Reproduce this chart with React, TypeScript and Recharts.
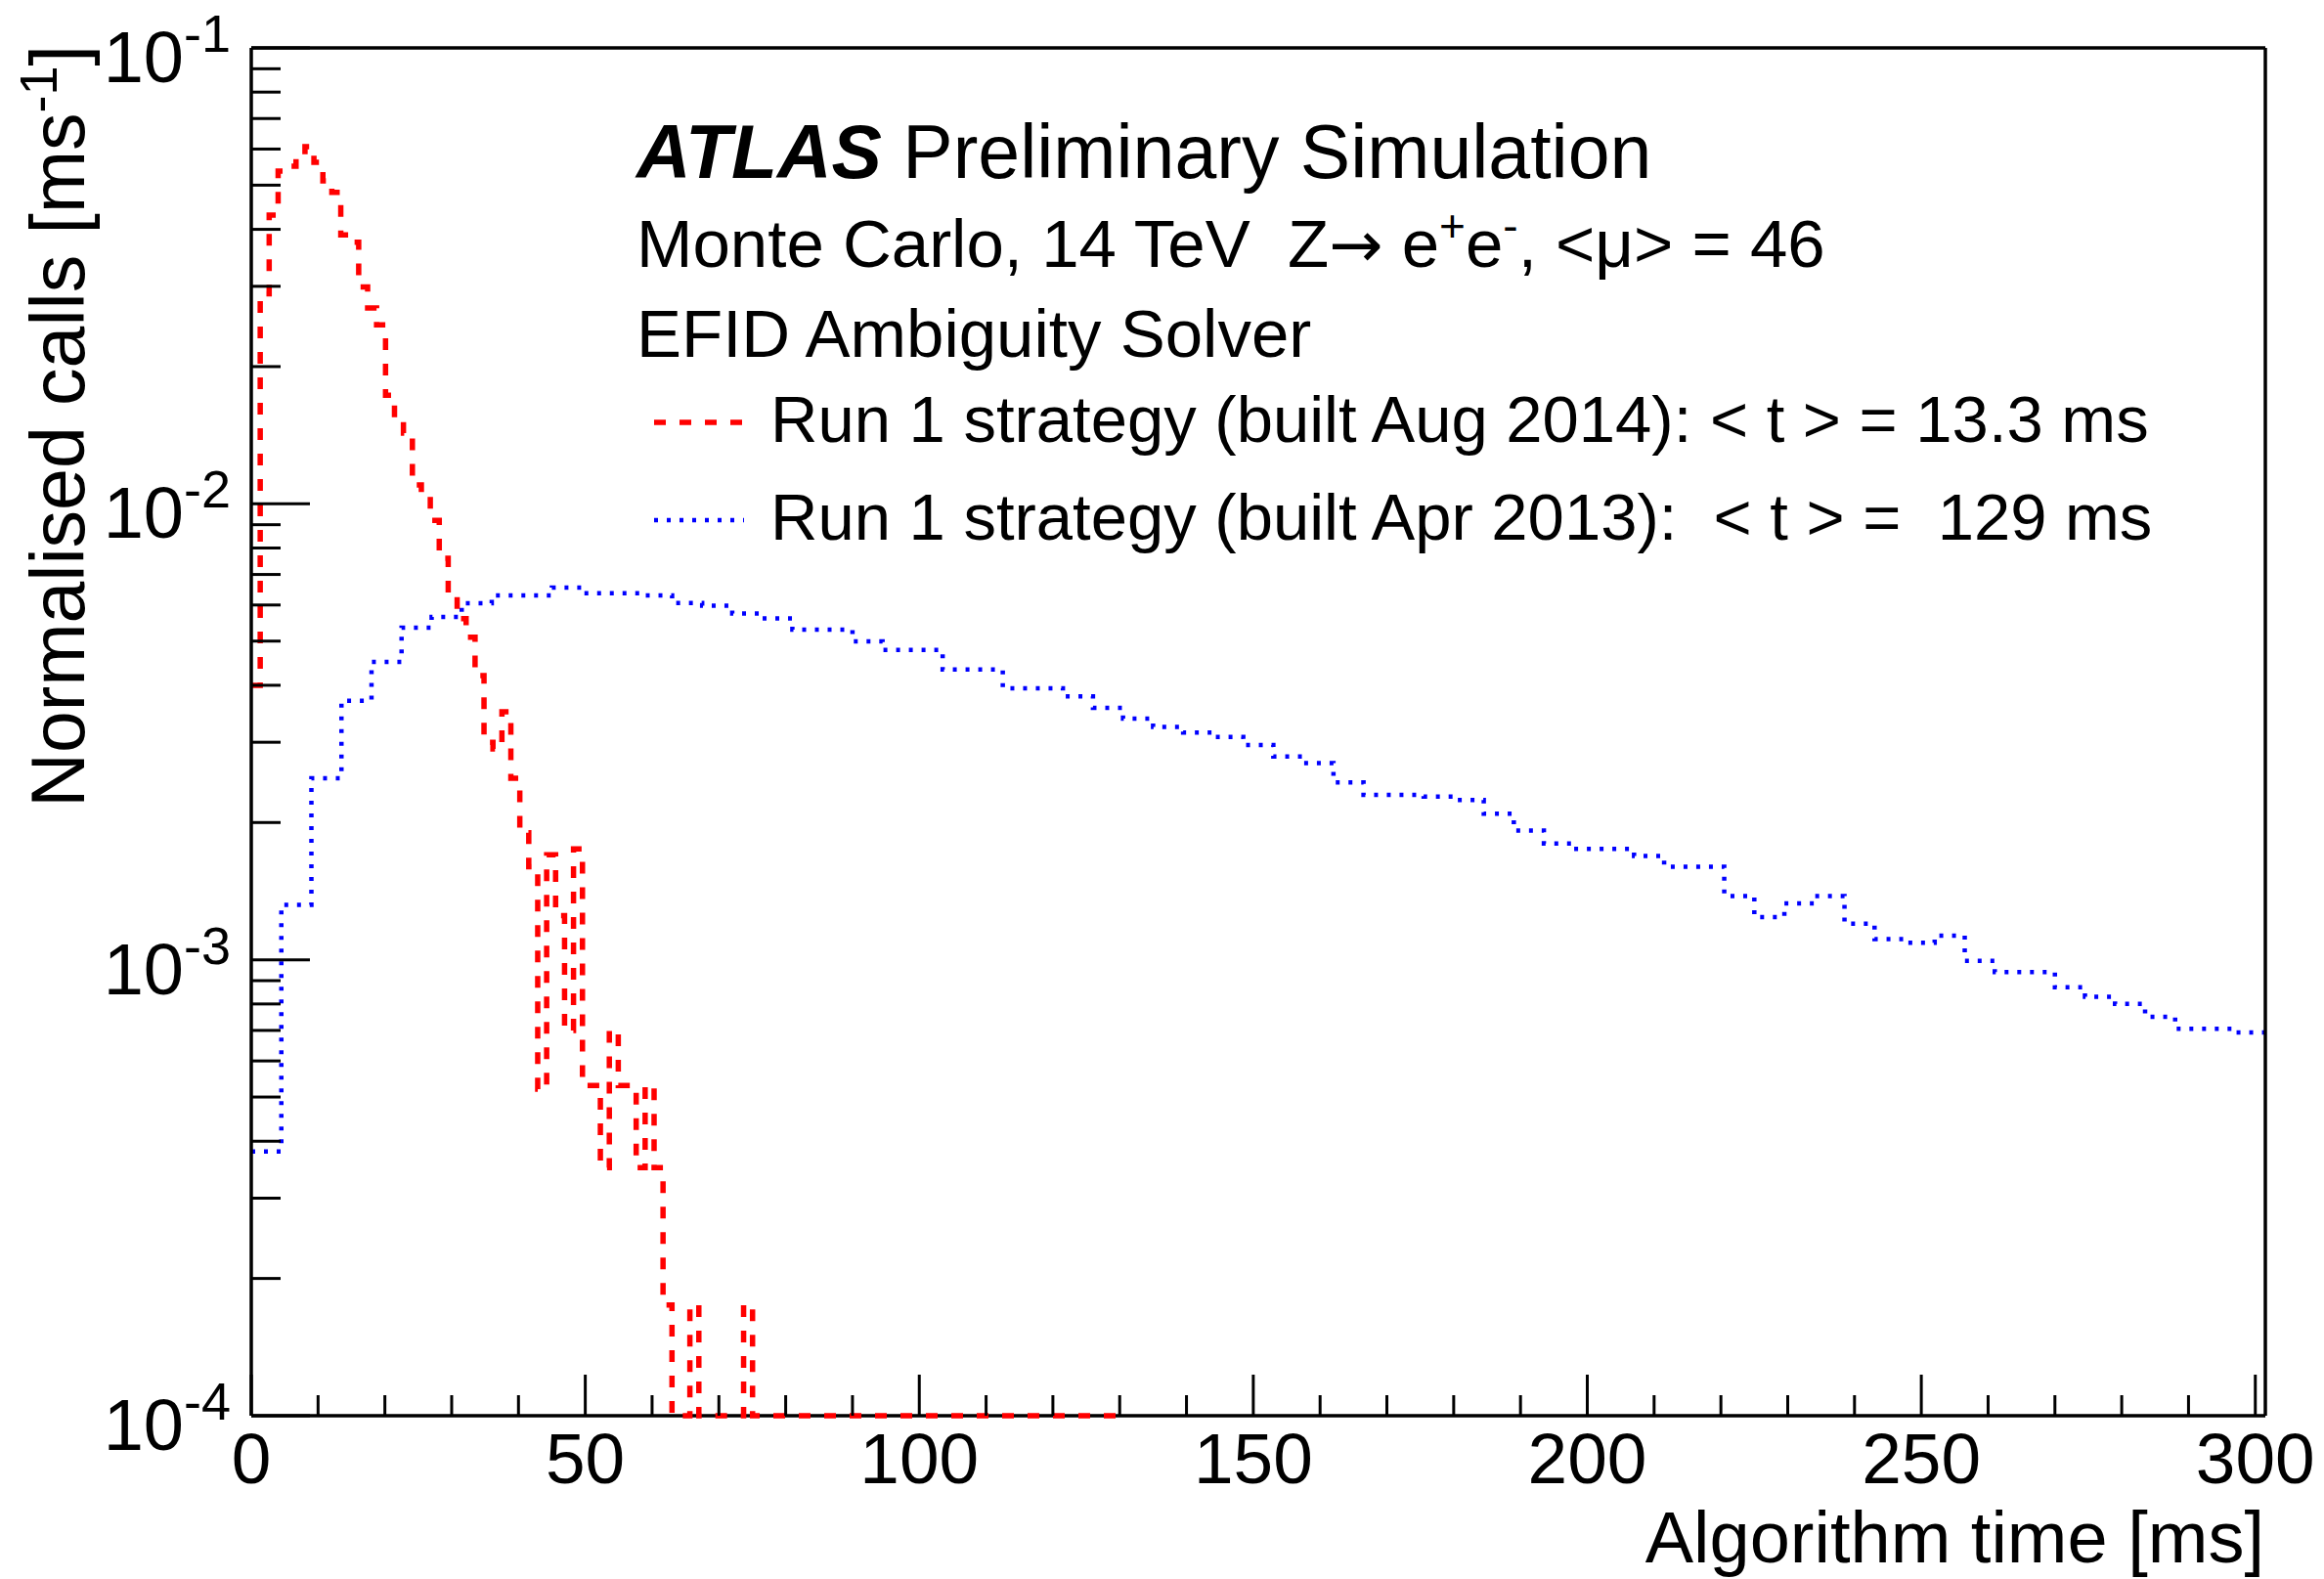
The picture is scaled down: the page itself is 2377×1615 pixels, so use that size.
import React from "react";
import { CartesianGrid, ComposedChart, Line, XAxis, YAxis } from "recharts";

const W = 2377;
const H = 1615;
const FONT = '"Liberation Sans", Arial, Helvetica, sans-serif';

// plot frame (px) – the chart margins are derived from it
const PLOT = { left: 257, right: 2317, top: 49, bottom: 1448 };

// histogram binning (ms)
const X_MAX = 301.5;
const redBinWidth = X_MAX / 225;
const blueBinWidth = 4.5;

// Run 1 strategy (built Aug 2014), normalised calls per bin, 0 = empty bin
const redValues = [
  0.004, 0.0289, 0.043, 0.0537, 0.055, 0.0577, 0.0607, 0.0561, 0.0511, 0.0482,
  0.0389, 0.0375, 0.0299, 0.0269, 0.0247, 0.0173, 0.0152, 0.0143, 0.011, 0.0104,
  0.0092, 0.0076, 0.0063, 0.0056, 0.0051, 0.0042, 0.003, 0.0029, 0.0035, 0.0025,
  0.0019, 0.0016, 0.00052, 0.0017, 0.00125, 0.0007, 0.00175, 0.00053, 0.00053, 0.00035,
  0.0007, 0.00053, 0.00053, 0.00035, 0.00053, 0.00035, 0.000175, 0, 0, 0.000175,
  0, 0, 0, 0, 0, 0.000175, 0, 0, 0, 0,
  0, 0, 0, 0, 0, 0, 0, 0, 0, 0,
  0, 0, 0, 0, 0, 0, 0, 0, 0, 0,
  0, 0, 0, 0, 0, 0, 0, 0, 0, 0,
  0, 0, 0, 0, 0, 0, 0,
];

// Run 1 strategy (built Apr 2013)
const blueValues = [
  0.00038, 0.00132, 0.0025, 0.0037, 0.0045, 0.00535, 0.00565, 0.00605, 0.0063, 0.0063,
  0.00655, 0.00637, 0.00637, 0.0063, 0.00606, 0.00598, 0.00575, 0.00561, 0.0053, 0.0053,
  0.00499, 0.00478, 0.00478, 0.00433, 0.00433, 0.00394, 0.00394, 0.00378, 0.00357, 0.00338,
  0.00324, 0.00315, 0.00308, 0.00296, 0.00279, 0.0027, 0.00245, 0.0023, 0.0023, 0.00228,
  0.00224, 0.00209, 0.00192, 0.0018, 0.00175, 0.00175, 0.00169, 0.0016, 0.0016, 0.00138,
  0.00124, 0.00133, 0.00138, 0.0012, 0.00111, 0.00109, 0.00113, 0.000995, 0.00094, 0.00094,
  0.00087, 0.00083, 0.0008, 0.00075, 0.000706, 0.000706, 0.000693,
];

const xTicks = [
  0, 10, 20, 30, 40, 50, 60, 70, 80, 90, 100, 110, 120, 130, 140, 150, 160, 170,
  180, 190, 200, 210, 220, 230, 240, 250, 260, 270, 280, 290, 300,
];
const xLabelEvery = 50;

const yTicks = [
  1e-4, 2e-4, 3e-4, 4e-4, 5e-4, 6e-4, 7e-4, 8e-4, 9e-4,
  1e-3, 2e-3, 3e-3, 4e-3, 5e-3, 6e-3, 7e-3, 8e-3, 9e-3,
  1e-2, 2e-2, 3e-2, 4e-2, 5e-2, 6e-2, 7e-2, 8e-2, 9e-2,
  1e-1,
];

const Y_MIN = 1e-4;
const Y_MAX = 0.1;

// histogram -> step points (empty bins are drawn on the frame, like ROOT does)
const toSteps = (vals: number[], w: number) => {
  const pts = vals.map((v, i) => ({ x: i * w, y: Math.max(v, Y_MIN) }));
  pts.push({ x: vals.length * w, y: Math.max(vals[vals.length - 1], Y_MIN) });
  return pts;
};

const redData = toSteps(redValues, redBinWidth);
const blueData = toSteps(blueValues, blueBinWidth);

const isDecade = (v: number) => {
  const l = Math.log10(v);
  return Math.abs(l - Math.round(l)) < 1e-6;
};

const BottomTick = (props: any) => {
  const { x, payload } = props;
  const major = payload.value % xLabelEvery === 0;
  return (
    <g>
      <line x1={x} x2={x} y1={PLOT.bottom} y2={PLOT.bottom - (major ? 42 : 21)} stroke="#000" strokeWidth={3} />
      {major && (
        <text x={x} y={PLOT.bottom + 69} textAnchor="middle" fontSize={73} fontFamily={FONT} fill="#000">
          {payload.value}
        </text>
      )}
    </g>
  );
};

const TopTick = (props: any) => {
  const { x, payload } = props;
  const major = payload.value % xLabelEvery === 0;
  return <line x1={x} x2={x} y1={PLOT.top} y2={PLOT.top + (major ? 42 : 21)} stroke="#000" strokeWidth={3} />;
};

const LeftTick = (props: any) => {
  const { y, payload } = props;
  const major = isDecade(payload.value);
  const exp = Math.round(Math.log10(payload.value));
  return (
    <g>
      <line x1={PLOT.left} x2={PLOT.left + (major ? 60 : 30)} y1={y} y2={y} stroke="#000" strokeWidth={3} />
      {major && (
        <text x={236} y={y + 35} textAnchor="end" fontSize={74} fontFamily={FONT} fill="#000">
          10
          <tspan dy={-31} fontSize={54}>{String(exp)}</tspan>
        </text>
      )}
    </g>
  );
};

const RightTick = (props: any) => {
  const { y, payload } = props;
  const major = isDecade(payload.value);
  return <line x1={PLOT.right} x2={PLOT.right - (major ? 60 : 30)} y1={y} y2={y} stroke="#000" strokeWidth={3} />;
};

const frame = { stroke: "#000", strokeWidth: 3.5 };

const App = () => {
  return (
    <div style={{ position: "absolute", left: 0, top: 0, width: W, height: H, background: "#fff" }}>
      <ComposedChart
        width={W}
        height={H}
        margin={{
          top: PLOT.top - 1,
          right: W - PLOT.right - 1,
          bottom: H - PLOT.bottom - 1,
          left: PLOT.left - 1,
        }}
      >
        {/* bottom edge of the frame sits behind the histograms, so empty red bins show on it */}
        <CartesianGrid
          xAxisId="b"
          yAxisId="l"
          vertical={false}
          horizontalPoints={[PLOT.bottom]}
          stroke="#000"
          strokeWidth={3.5}
        />
        <XAxis
          xAxisId="b"
          type="number"
          dataKey="x"
          domain={[0, X_MAX]}
          ticks={xTicks}
          interval={0}
          height={1}
          tickSize={0}
          tickMargin={0}
          tickLine={false}
          axisLine={false}
          tick={<BottomTick />}
        />
        <XAxis
          xAxisId="t"
          orientation="top"
          type="number"
          dataKey="x"
          domain={[0, X_MAX]}
          ticks={xTicks}
          interval={0}
          height={1}
          tickSize={0}
          tickMargin={0}
          tickLine={false}
          axisLine={frame}
          tick={<TopTick />}
        />
        <YAxis
          yAxisId="l"
          type="number"
          scale="log"
          domain={[Y_MIN, Y_MAX]}
          ticks={yTicks}
          interval={0}
          width={1}
          tickSize={0}
          tickMargin={0}
          tickLine={false}
          axisLine={frame}
          tick={<LeftTick />}
        />
        <YAxis
          yAxisId="r"
          orientation="right"
          type="number"
          scale="log"
          domain={[Y_MIN, Y_MAX]}
          ticks={yTicks}
          interval={0}
          width={1}
          tickSize={0}
          tickMargin={0}
          tickLine={false}
          axisLine={frame}
          tick={<RightTick />}
        />
        <Line
          xAxisId="b"
          yAxisId="l"
          data={blueData}
          dataKey="y"
          type="stepAfter"
          stroke="#0000ff"
          strokeWidth={4.5}
          strokeDasharray="4 9"
          dot={false}
          isAnimationActive={false}
        />
        <Line
          xAxisId="b"
          yAxisId="l"
          data={redData}
          dataKey="y"
          type="stepAfter"
          stroke="#ff0000"
          strokeWidth={5.5}
          strokeDasharray="12 14"
          dot={false}
          isAnimationActive={false}
        />
      </ComposedChart>

      {/* labels, annotations and legend */}
      <svg
        width={W}
        height={H}
        style={{ position: "absolute", left: 0, top: 0, pointerEvents: "none" }}
        fontFamily={FONT}
        fill="#000"
      >
        <text x={2316} y={1598} textAnchor="end" fontSize={74}>
          Algorithm time [ms]
        </text>
        <text transform="translate(86,46) rotate(-90)" textAnchor="end" fontSize={77}>
          {"Normalised calls [ms"}
          <tspan dy={-28} fontSize={54}>-1</tspan>
          <tspan dy={28}>]</tspan>
        </text>

        <text x={651} y={182} fontSize={77}>
          <tspan fontWeight="bold" fontStyle="italic">ATLAS</tspan>
          {" Preliminary Simulation"}
        </text>
        <text x={651} y={273} fontSize={69} style={{ whiteSpace: "pre" }}>
          {"Monte Carlo, 14 TeV  Z"}
          <tspan fontFamily="DejaVu Sans" fontSize={66}>{"\u2192"}</tspan>
          {" e"}
          <tspan dy={-26} fontSize={46}>+</tspan>
          <tspan dy={26}>e</tspan>
          <tspan dy={-26} fontSize={46}>-</tspan>
          <tspan dy={26}>{", <\u03bc> = 46"}</tspan>
        </text>
        <text x={651} y={365} fontSize={69}>
          EFID Ambiguity Solver
        </text>

        <line x1={669} x2={761} y1={432} y2={432} stroke="#ff0000" strokeWidth={5.5} strokeDasharray="12 14" />
        <text x={788} y={452} fontSize={67} style={{ whiteSpace: "pre" }}>
          {"Run 1 strategy (built Aug 2014): < t > = 13.3 ms"}
        </text>
        <line x1={669} x2={761} y1={532} y2={532} stroke="#0000ff" strokeWidth={4.5} strokeDasharray="4 9" />
        <text x={788} y={552} fontSize={67} style={{ whiteSpace: "pre" }}>
          {"Run 1 strategy (built Apr 2013):  < t > =  129 ms"}
        </text>
      </svg>
    </div>
  );
};

export default App;
